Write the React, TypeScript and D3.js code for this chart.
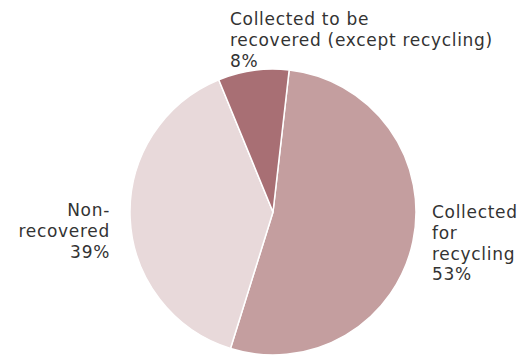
import React from "react";
import * as d3 from "d3";

const categories = ["Collected for recycling", "Non-recovered", "Collected to be recovered (except recycling)"];
const values = [53, 39, 8];
const colors = ["#c49e9f", "#e8d9da", "#a86f74"];
const labelLines = [
  ["Collected", "for", "recycling", "53%"],
  ["Non-", "recovered", "39%"],
  ["Collected to be", "recovered (except recycling)", "8%"],
];

const W = 529;
const H = 357;
const cx = 273;
const cy = 212;
const R = 143;

export default function App() {
  const pie = d3
    .pie<number>()
    .sort(null)
    .startAngle((6.5 * Math.PI) / 180)
    .endAngle((6.5 * Math.PI) / 180 + 2 * Math.PI);
  const arcs = pie(values);
  const arc = d3.arc<d3.PieArcDatum<number>>().innerRadius(0).outerRadius(R);

  const labelPos = [
    { x: 432, y: 218, anchor: "start" },
    { x: 110, y: 216, anchor: "end" },
    { x: 230, y: 25, anchor: "start" },
  ];
  const lh = 20.8;

  return (
    <svg
      width={W}
      height={H}
      style={{ position: "absolute", left: 0, top: 0, background: "#fff" }}
      fontFamily="'DejaVu Sans', sans-serif"
    >
      <g transform={`translate(${cx},${cy})`}>
        {arcs.map((a, i) => (
          <path key={categories[i]} d={arc(a) || ""} fill={colors[i]} stroke="#fff" strokeWidth={1.5} />
        ))}
      </g>
      {labelLines.map((lines, i) => (
        <text
          key={i}
          x={labelPos[i].x}
          y={labelPos[i].y}
          textAnchor={labelPos[i].anchor}
          fontSize={17}
          letterSpacing={0.7}
          fill="#333333"
        >
          {lines.map((l, j) => (
            <tspan key={j} x={labelPos[i].x} dy={j === 0 ? 0 : lh}>
              {l}
            </tspan>
          ))}
        </text>
      ))}
    </svg>
  );
}
